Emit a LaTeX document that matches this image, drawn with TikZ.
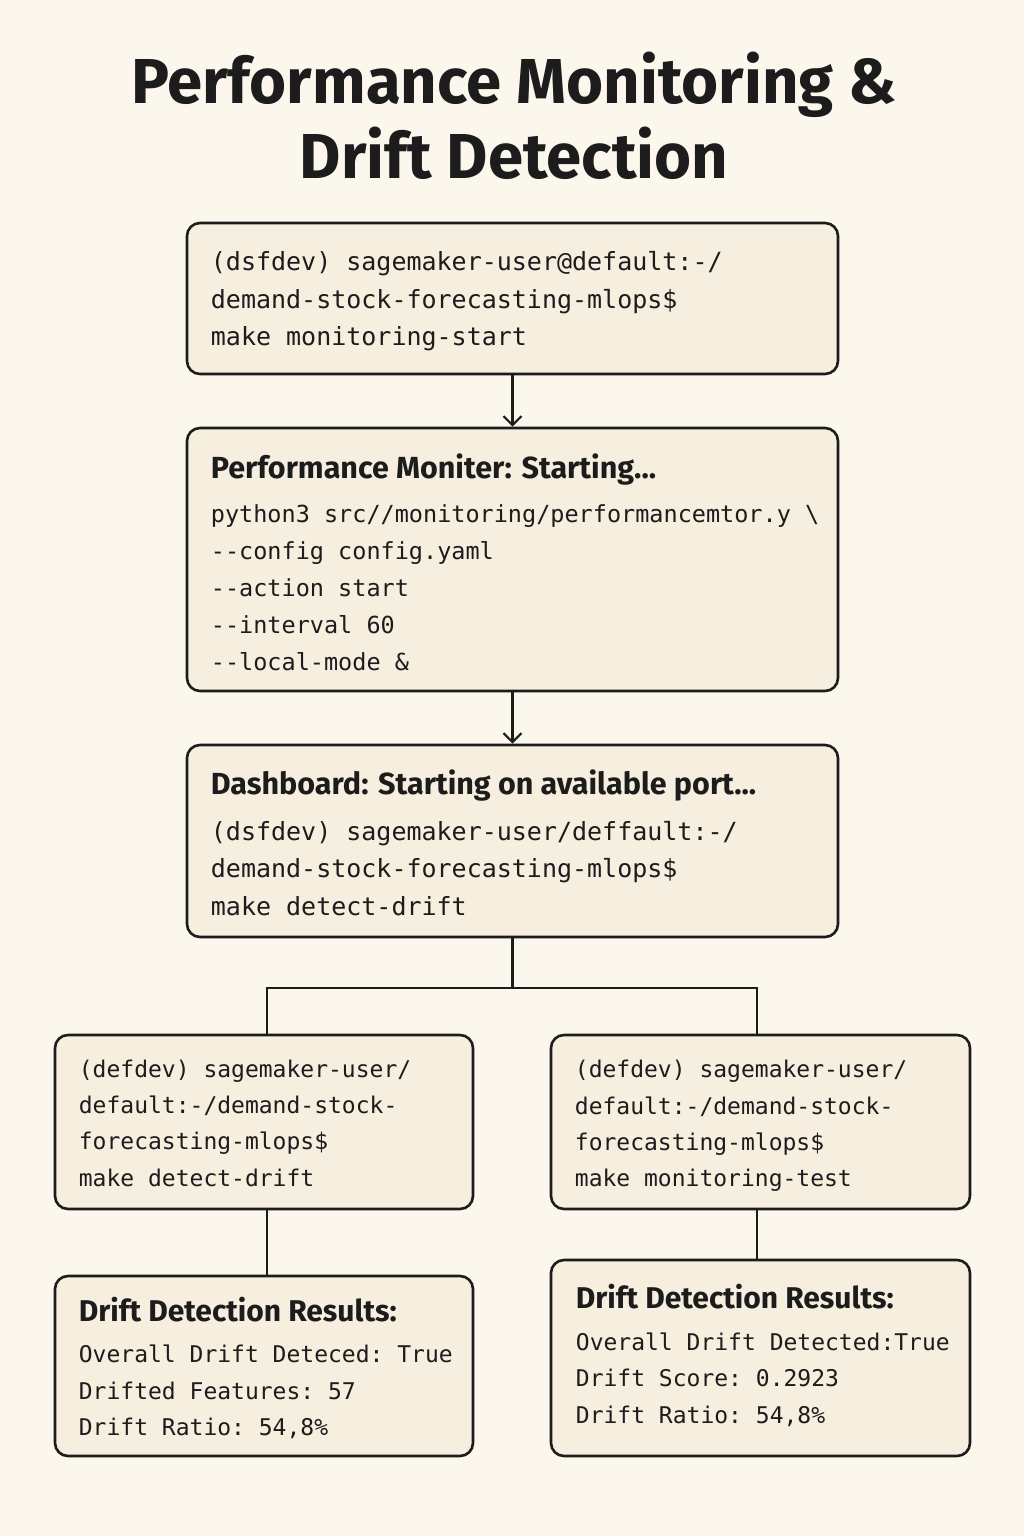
\documentclass[tikz,border=0pt]{standalone}
\usepackage{fontspec}
\setmainfont{Fira Sans}
\setmonofont{DejaVu Sans Mono}
\newfontfamily\headf{Fira Sans}
\usetikzlibrary{arrows.meta}
\definecolor{bg}{RGB}{252,247,237}
\definecolor{boxfill}{RGB}{246,238,222}
\definecolor{ink}{RGB}{28,28,28}
\newcommand{\hdrA}{\headf\bfseries\fontsize{30.5}{37}\selectfont}
\newcommand{\hdrB}{\headf\bfseries\fontsize{30}{36}\selectfont}
\begin{document}
\begin{tikzpicture}[x=1pt,y=-1pt,
  box/.style={draw=ink, line width=2.6pt, fill=boxfill, rounded corners=13pt, inner sep=0pt},
  txt/.style={anchor=west, align=left, inner sep=0pt, text=ink},
  monoL/.style={font=\ttfamily\fontsize{25}{37.5}\selectfont},
  monoM/.style={font=\ttfamily\fontsize{23.5}{37}\selectfont},
  monoS/.style={font=\ttfamily\fontsize{23}{36.3}\selectfont},
  conn/.style={draw=ink, line width=2.2pt},
  arr/.style={conn, -{Straight Barb[length=9pt,width=18pt,line width=2.2pt]}}
]
\fill[bg] (0,0) rectangle (1024,1536);
\useasboundingbox (0,0) rectangle (1024,1536);

\node[font=\headf\bfseries\fontsize{63.5}{75}\selectfont, align=center, text=ink] (title) at (514,116) {Performance Monitoring \&\\Drift Detection};

\node[box, minimum width=651pt, minimum height=151pt] (b1) at (512.5,298.5) {};
\node[box, minimum width=651pt, minimum height=263pt] (b2) at (512.5,559.5) {};
\node[box, minimum width=651pt, minimum height=192pt] (b3) at (512.5,841) {};
\node[box, minimum width=418pt, minimum height=174pt] (b4) at (264,1122) {};
\node[box, minimum width=419pt, minimum height=174pt] (b5) at (760.5,1122) {};
\node[box, minimum width=418pt, minimum height=180pt] (b6) at (264,1366) {};
\node[box, minimum width=419pt, minimum height=196pt] (b7) at (760.5,1358) {};

\node[txt, monoL] (t1) at ([xshift=25pt,yshift=-3pt]b1.west) {(dsfdev) sagemaker-user@default:-/\\demand-stock-forecasting-mlops\$\\make monitoring-start};
\node[txt, monoM] (t2) at ([xshift=25pt,yshift=-3pt]b2.west) {{\hdrA Performance Moniter: Starting...}\\[7pt]python3 src//monitoring/performancemtor.y \textbackslash\\--config config.yaml\\--action start\\--interval 60\\--local-mode \&};
\node[txt, monoL] (t3) at ([xshift=25pt,yshift=-2pt]b3.west) {{\hdrA Dashboard: Starting on available port...}\\[8pt](dsfdev) sagemaker-user/deffault:-/\\demand-stock-forecasting-mlops\$\\make detect-drift};
\node[txt, monoS] (t4) at ([xshift=25pt,yshift=-1pt]b4.west) {(defdev) sagemaker-user/\\default:-/demand-stock-\\forecasting-mlops\$\\make detect-drift};
\node[txt, monoS] (t5) at ([xshift=25pt,yshift=-4pt]b5.west) {(defdev) sagemaker-user/\\default:-/demand-stock-\\forecasting-mlops\$\\make monitoring-test};
\node[txt, monoS] (t6) at ([xshift=25pt,yshift=-2pt]b6.west) {{\hdrB Drift Detection Results:}\\[5pt]Overall Drift Deteced: True\\Drifted Features: 57\\Drift Ratio: 54,8\%};
\node[txt, monoS] (t7) at ([xshift=26pt,yshift=3pt]b7.west) {{\hdrB Drift Detection Results:}\\[6pt]Overall Drift Detected:True\\Drift Score: 0.2923\\Drift Ratio: 54,8\%};

\draw[arr] (b1.south) -- (b2.north);
\draw[arr] (b2.south) -- (b3.north);
\coordinate (split) at (512.5,988);
\draw[conn] (b3.south) -- (split);
\draw[conn] ([xshift=3pt]b4.north) |- (split);
\draw[conn] (split) -| ([xshift=-3.5pt]b5.north);
\draw[conn] ([xshift=3pt]b4.south) -- ([xshift=3pt]b6.north);
\draw[conn] ([xshift=-3.5pt]b5.south) -- ([xshift=-3.5pt]b7.north);
\end{tikzpicture}
\end{document}
